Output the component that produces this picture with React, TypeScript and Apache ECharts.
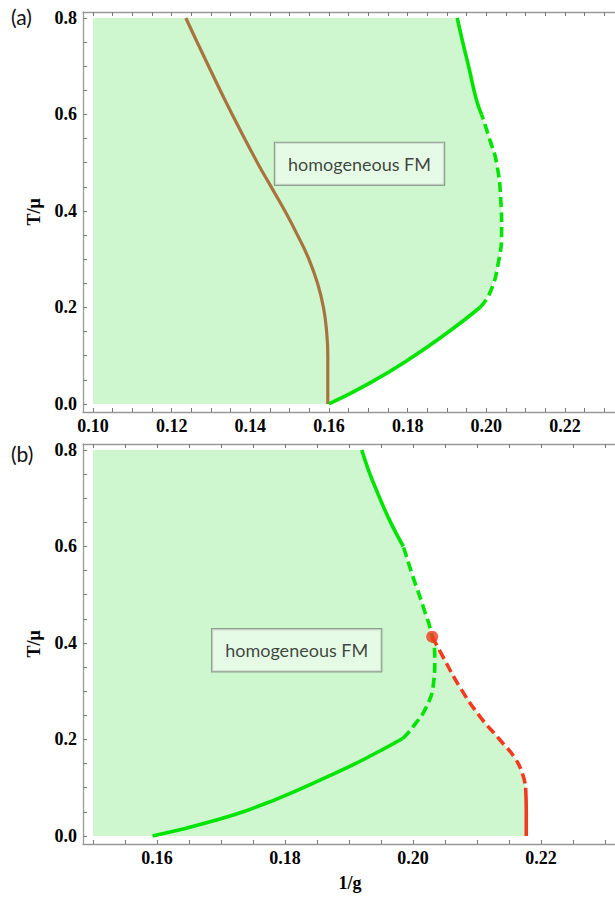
import React, { useEffect, useRef } from "react";
import * as echarts from "echarts";

// ---------- data ----------
const Y_LABELS = [0, 0.2, 0.4, 0.6, 0.8];
const Y_TICKS = [0, 0.05, 0.1, 0.15, 0.2, 0.25, 0.3, 0.35, 0.4, 0.45, 0.5, 0.55, 0.6, 0.65, 0.7, 0.75, 0.8];
const X_LABELS_A = [0.1, 0.12, 0.14, 0.16, 0.18, 0.2, 0.22];
const X_TICKS_A = [0.1, 0.105, 0.11, 0.115, 0.12, 0.125, 0.13, 0.135, 0.14, 0.145, 0.15, 0.155, 0.16, 0.165, 0.17, 0.175, 0.18, 0.185, 0.19, 0.195, 0.2, 0.205, 0.21, 0.215, 0.22, 0.225, 0.23, 0.235];
const X_LABELS_B = [0.16, 0.18, 0.2, 0.22];
const X_TICKS_B = [0.15, 0.155, 0.16, 0.165, 0.17, 0.175, 0.18, 0.185, 0.19, 0.195, 0.2, 0.205, 0.21, 0.215, 0.22, 0.225, 0.23, 0.235];

// panel (a)
const brownA = [[0.1597, 0], [0.1597, 0.1], [0.1594, 0.15], [0.1586, 0.2], [0.1571, 0.25], [0.1549, 0.3], [0.152, 0.35], [0.1488, 0.4], [0.1453, 0.45], [0.1418, 0.5], [0.1354, 0.6], [0.1294, 0.7], [0.1236, 0.8]];
const greenA_low = [[0.16, 0], [0.17, 0.0417], [0.18, 0.0907], [0.19, 0.147], [0.1984, 0.2]];
const greenA_dash = [[0.1984, 0.2], [0.2009, 0.23], [0.203, 0.29], [0.2039, 0.36], [0.2037, 0.42], [0.2026, 0.5], [0.2008, 0.55], [0.1988, 0.6]];
const greenA_up = [[0.1988, 0.6], [0.1975, 0.63], [0.1955, 0.7], [0.194, 0.75], [0.1926, 0.8]];
const fillA_left = [[0.1, 0.8], [0.1, 0]];

// panel (b)
const greenB_low = [[0.1593, 0], [0.1693, 0.033], [0.1784, 0.075], [0.187, 0.125], [0.1922, 0.158], [0.1984, 0.202]];
const greenB_dash = [[0.1984, 0.202], [0.2, 0.226], [0.2021, 0.268], [0.2032, 0.316], [0.2034, 0.365], [0.203, 0.413], [0.2016, 0.475], [0.2, 0.537], [0.1985, 0.6]];
const greenB_up = [[0.1985, 0.6], [0.1965, 0.65], [0.1945, 0.71], [0.193, 0.76], [0.192, 0.8]];
const redB_dash = [[0.203, 0.413], [0.2047, 0.371], [0.2073, 0.309], [0.2105, 0.247], [0.2136, 0.199], [0.216, 0.16], [0.2172, 0.125], [0.2176, 0.1]];
const redB_solid = [[0.2176, 0.1], [0.2177, 0.05], [0.2177, 0]];
const criticalB = [[0.203, 0.413]];
const fillB_left = [[0.15, 0.8], [0.15, 0]];

const labelA = [[0.16776, 0.4977]];
const labelB = [[0.18183, 0.3849]];

// ---------- styles ----------
const FILL = "#cff7cf";
const GREEN = "#00e400";
const BROWN = "#a9733f";
const RED = "#f23a1e";
const FRAME = "#9a9a9a";
const SERIF = "'Liberation Serif', 'DejaVu Serif', serif";
const SANS = "Lato, 'Open Sans', sans-serif";

export default function App() {
  const ref = useRef<HTMLDivElement>(null);
  useEffect(() => {
    if (!ref.current) return;
    const chart = echarts.init(ref.current, null, { renderer: "svg" });

    const fillA = [
      ...greenA_low,
      ...greenA_dash.slice(1),
      ...greenA_up.slice(1),
      ...fillA_left,
    ];
    const fillB = [
      ...redB_solid.slice().reverse(),
      ...redB_dash.slice().reverse().slice(1),
      ...greenB_dash.slice(6),
      ...greenB_up.slice(1),
      ...fillB_left,
    ];

    const labelFont = { fontFamily: SERIF, fontWeight: "bold" as const, fontSize: 18, color: "#000" };

    const xAxisBase = (grid: number, min: number, max: number, labels: number[], ticks: number[]) => [
      {
        type: "value", gridIndex: grid, min, max, position: "bottom",
        axisLine: { show: true, onZero: false, lineStyle: { color: FRAME, width: 1.3 } },
        axisTick: { show: true, inside: true, length: 4, customValues: ticks, lineStyle: { color: "#777" } },
        axisLabel: { show: true, customValues: labels, margin: 5, formatter: (v: number) => v.toFixed(2), ...labelFont },
        splitLine: { show: false },
      },
      {
        type: "value", gridIndex: grid, min, max, position: "top",
        axisLine: { show: true, onZero: false, lineStyle: { color: FRAME, width: 1.3 } },
        axisTick: { show: true, inside: true, length: 4, customValues: ticks, lineStyle: { color: "#777" } },
        axisLabel: { show: false },
        splitLine: { show: false },
      },
    ];
    const yAxisBase = (grid: number) => ({
      type: "value", gridIndex: grid, min: -0.0166, max: 0.8124, position: "left",
      name: "T/\u03bc", nameLocation: "middle", nameGap: 40, nameRotate: 90,
      nameTextStyle: { ...labelFont },
      axisLine: { show: true, onZero: false, lineStyle: { color: FRAME, width: 1.3 } },
      axisTick: { show: true, inside: true, length: 4, customValues: Y_TICKS, lineStyle: { color: "#777" } },
      axisLabel: { show: true, customValues: Y_LABELS, margin: 6, formatter: (v: number) => v.toFixed(1), ...labelFont },
      splitLine: { show: false },
    });

    const fillSeries = (xi: number, yi: number, pts: number[][]) => ({
      type: "custom", xAxisIndex: xi, yAxisIndex: yi, data: [pts[0]], z: 1, silent: true, clip: true,
      renderItem: (_p: any, api: any) => ({
        type: "polygon",
        shape: { points: pts.map((p) => api.coord(p)), smooth: 0 },
        style: { fill: FILL },
      }),
    });
    const line = (xi: number, yi: number, data: number[][], color: string, dashed: boolean, width = 3.6) => ({
      type: "line", xAxisIndex: xi, yAxisIndex: yi, data, showSymbol: false, smooth: 0.5, z: 3, silent: true,
      lineStyle: { color, width, type: dashed ? [10, 5] : "solid", cap: "butt" },
    });
    const boxLabel = (xi: number, yi: number, data: number[][]) => ({
      type: "scatter", xAxisIndex: xi, yAxisIndex: yi, data, symbolSize: 1, z: 5, silent: true,
      itemStyle: { color: "rgba(0,0,0,0)" },
      label: {
        show: true, position: "inside", formatter: "homogeneous FM",
        fontFamily: SANS, fontSize: 18, color: "#111",
        backgroundColor: "rgba(240,252,240,0.85)", borderColor: "#7f897f", borderWidth: 1.2,
        padding: [12, 13],
      },
    });

    chart.setOption({
      animation: false,
      backgroundColor: "#fff",
      grid: [
        { left: 83, top: 12, height: 400, width: 557, outerBoundsMode: "none", containLabel: false },
        { left: 83, top: 444, height: 400, width: 557, outerBoundsMode: "none", containLabel: false },
      ],
      xAxis: [
        ...xAxisBase(0, 0.09746, 0.23908, X_LABELS_A, X_TICKS_A),
        ...xAxisBase(1, 0.148438, 0.23547, X_LABELS_B, X_TICKS_B),
      ],
      yAxis: [yAxisBase(0), yAxisBase(1)],
      series: [
        fillSeries(0, 0, fillA),
        line(0, 0, brownA, BROWN, false, 3.2),
        line(0, 0, greenA_low, GREEN, false),
        line(0, 0, greenA_dash, GREEN, true),
        line(0, 0, greenA_up, GREEN, false),
        boxLabel(0, 0, labelA),
        fillSeries(2, 1, fillB),
        line(2, 1, greenB_low, GREEN, false),
        line(2, 1, greenB_dash, GREEN, true),
        line(2, 1, greenB_up, GREEN, false),
        line(2, 1, redB_dash, RED, true),
        line(2, 1, redB_solid, RED, false),
        {
          type: "scatter", xAxisIndex: 2, yAxisIndex: 1, data: criticalB, symbolSize: 12, z: 6, silent: true,
          itemStyle: { color: RED },
        },
        boxLabel(2, 1, labelB),
      ],
      graphic: [
        { type: "text", left: 11, top: 6, style: { text: "(a)", fontFamily: SANS, fontSize: 21, fill: "#111" } },
        { type: "text", left: 11, top: 443, style: { text: "(b)", fontFamily: SANS, fontSize: 21, fill: "#111" } },
        {
          type: "text", x: 350, y: 883,
          style: { text: "1/g", fontFamily: SERIF, fontWeight: "bold", fontSize: 18, fill: "#000", align: "center", verticalAlign: "middle" },
        },
      ],
    });
    return () => chart.dispose();
  }, []);
  return (
    <div
      ref={ref}
      style={{ position: "fixed", left: 0, top: 0, width: 615, height: 897, background: "#fff" }}
    />
  );
}
